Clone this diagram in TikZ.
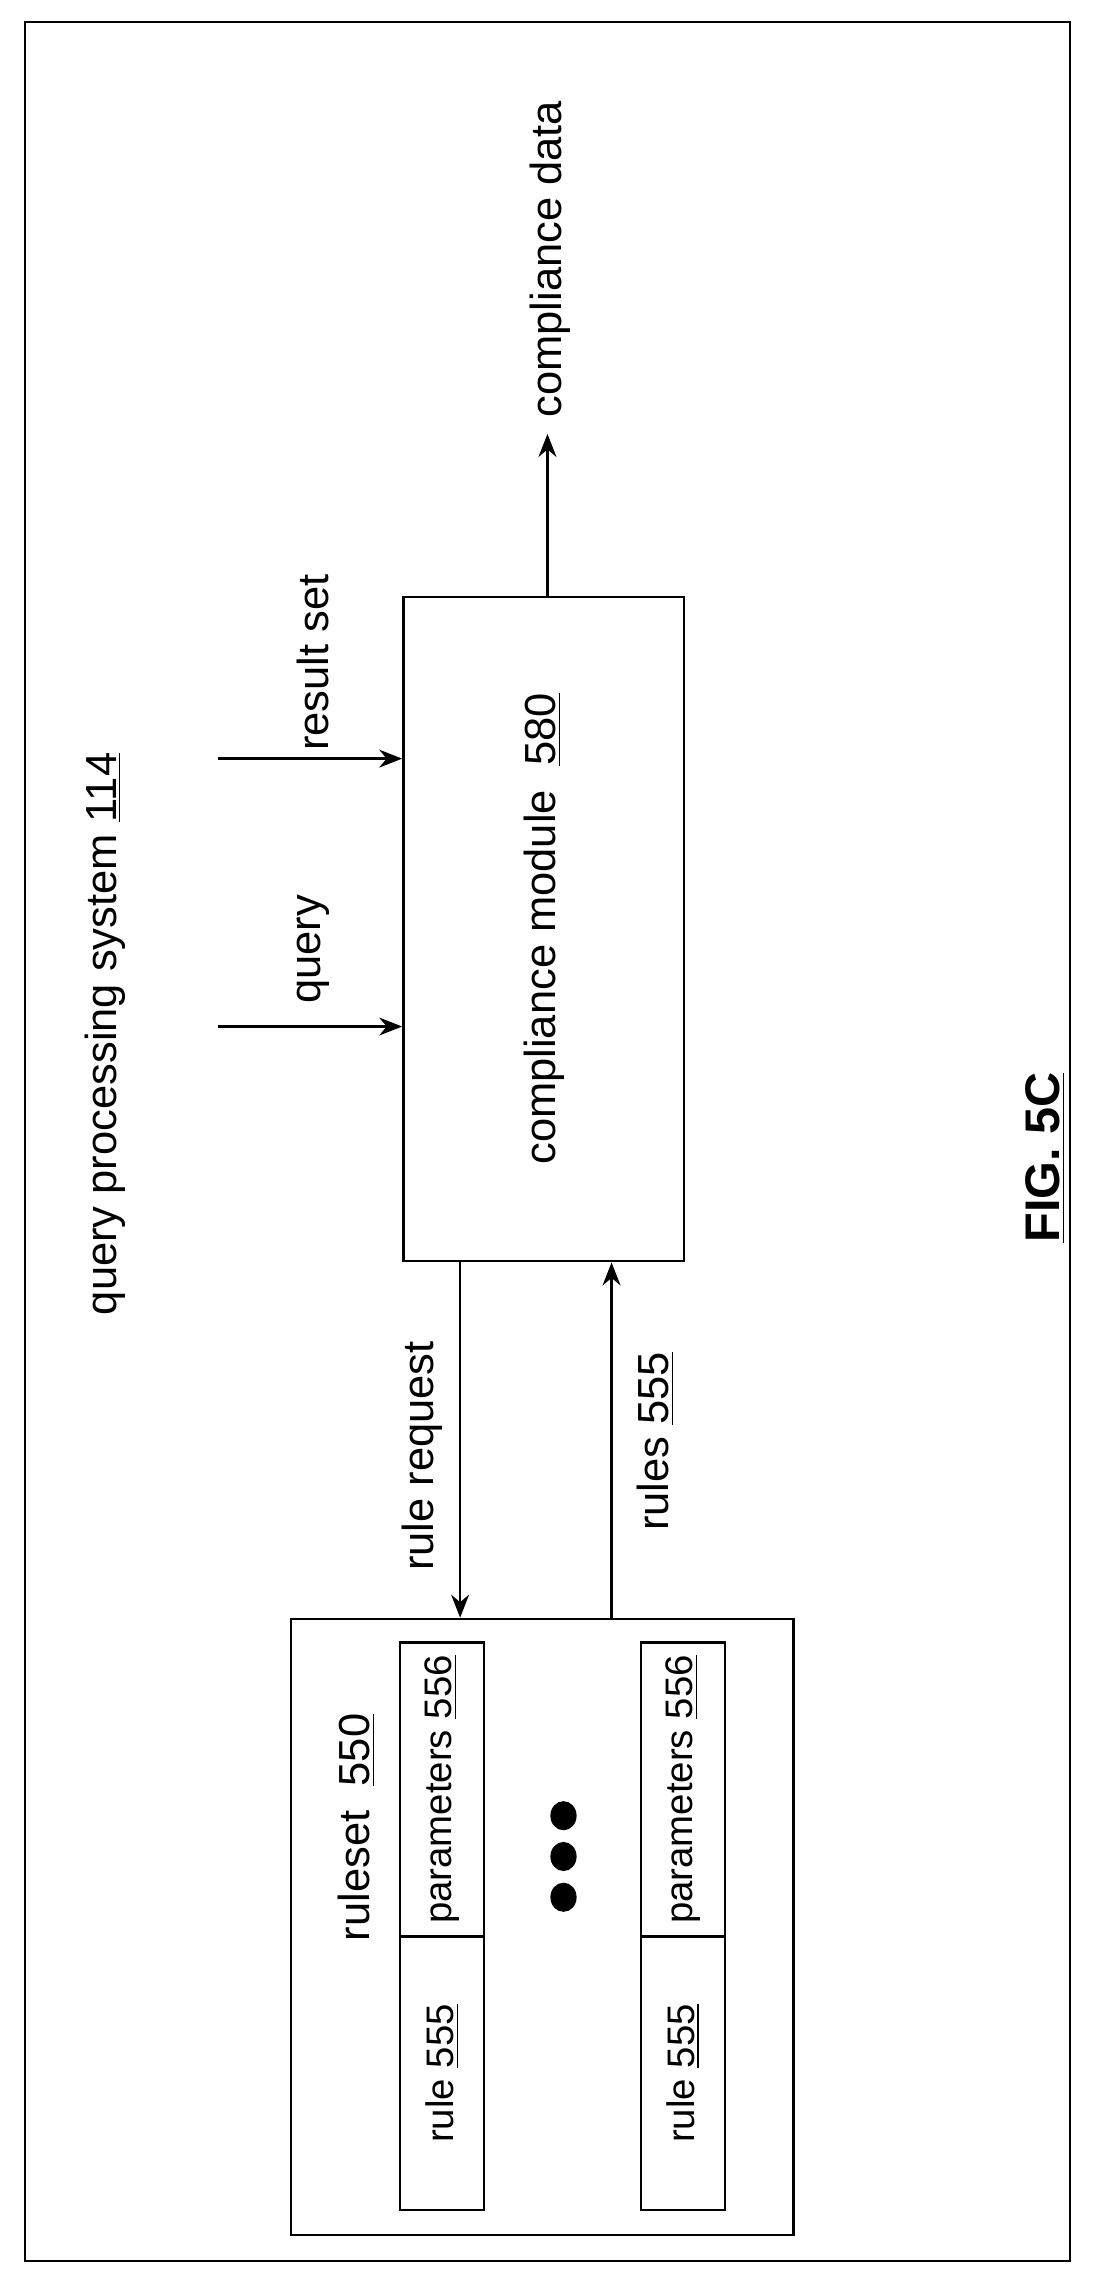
\documentclass[tikz,border=0pt]{standalone}
\usepackage{fontspec}
\setmainfont{Liberation Sans}
\usetikzlibrary{positioning,arrows.meta}
\begin{document}
\begin{tikzpicture}[%
            x=0.02cm,
            y=-0.02cm,
            >={Stealth[length=9pt,width=7pt]},
            line width=0.9pt,
            font=\fontsize{17}{19}\selectfont,
            label/.style={%
            	rotate=90,
            	inner sep=0pt
            },
            module/.style={%
            	rectangle,
            	draw,
            	rotate=90,
            	minimum width=9.12cm,
            	minimum height=3.86cm
            },
            cell/.style={%
            	rectangle,
            	draw,
            	rotate=90,
            	minimum height=1.16cm,
            	inner sep=0pt,
            	font=\fontsize{15}{17}\selectfont
            }
            ]
            \useasboundingbox (0,0) rectangle (750,1564.5);
            \draw (17,15) rectangle (735,1553);
            \node[label] (sys) at (72,710) {query processing system \underline{114}};

            \node[module] (cm) at (373.5,638) {compliance module \ \underline{580}};
            \node[rectangle,draw,minimum width=6.9cm,minimum height=8.46cm] (rs) at (372.5,1323.5) {};
            \node[label] (rslbl) at (245,1255) {ruleset \ \underline{550}};

            \node[cell,minimum width=3.76cm] (r1) at (303.5,1424) {rule \underline{555}};
            \node[cell,minimum width=4.04cm] (p1) at (303.5,1229) {parameters \underline{556}};
            \node[cell,minimum width=3.76cm] (r2) at (469,1424) {rule \underline{555}};
            \node[cell,minimum width=4.04cm] (p2) at (469,1229) {parameters \underline{556}};
            \foreach \y in {1247,1275,1303}
            	\fill (387,\y) ellipse (9 and 10);

            % inputs and output
            \coordinate (qin) at (150,705);
            \coordinate (rin) at (150,521);
            \coordinate (out) at (376,298);
            \draw[->] (qin) -- (qin -| cm.north);
            \draw[->] (rin) -- (rin -| cm.north);
            \node[label] (qlbl) at (215,652) {query};
            \node[label] (rlbl) at (215,455) {result set};
            \draw[->] (cm.east -| out) -- (out);
            \node[label] (out lbl) at (378,178) {compliance data};

            % rule exchange
            \draw[->] (316,866) -- (316,1111);
            \draw[->] (420,1112) -- (420,867);
            \node[label] (reqlbl) at (290,1000) {rule request};
            \node[label] (rulelbl) at (450,990) {rules \underline{555}};

            \node[label,font=\fontsize{19}{21}\selectfont\bfseries] (fig) at (718,795) {\underline{FIG. 5C}};
\end{tikzpicture}
\end{document}
